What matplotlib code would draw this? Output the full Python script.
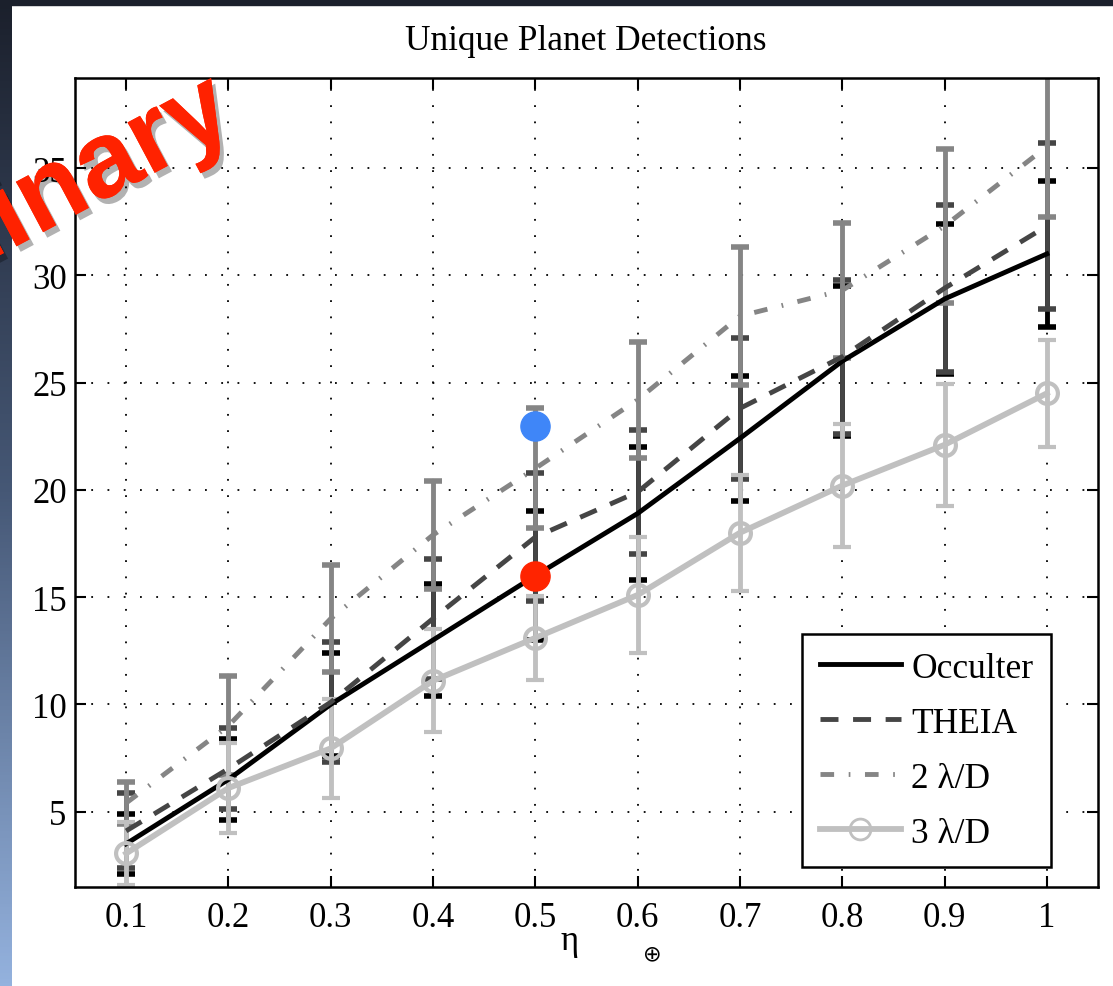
import numpy as np
import matplotlib
matplotlib.use("Agg")
import matplotlib.pyplot as plt
from matplotlib.patches import Rectangle
from matplotlib.lines import Line2D
import matplotlib.patheffects as pe

plt.rcParams['font.family'] = ['Liberation Serif', 'DejaVu Sans']

# données
eta = [0.1, 0.2, 0.3, 0.4, 0.5, 0.6, 0.7, 0.8, 0.9, 1.0]
occulter = [3.5, 6.5, 10.0, 13.0, 16.0, 18.9, 22.4, 26.0, 28.9, 31.0]
occulter_err = [1.4, 1.9, 2.4, 2.6, 3.0, 3.1, 2.9, 3.5, 3.5, 3.4]
theia = [4.1, 7.0, 10.1, 14.0, 17.8, 19.9, 23.8, 26.2, 29.4, 32.3]
theia_err = [1.75, 1.9, 2.8, 2.8, 3.0, 2.9, 3.3, 3.6, 3.9, 3.85]
two_ld = [5.4, 9.0, 14.0, 17.9, 21.0, 24.2, 28.1, 29.3, 32.3, 36.0]
two_ld_err = [1.0, 2.3, 2.5, 2.5, 2.8, 2.7, 3.2, 3.15, 3.6, 3.3]
three_ld = [3.05, 6.1, 7.95, 11.1, 13.1, 15.1, 18.0, 20.2, 22.1, 24.5]
three_ld_err = [1.45, 2.1, 2.3, 2.4, 1.95, 2.7, 2.7, 2.85, 2.85, 2.5]

# points mis en évidence (bleu, rouge)
mark_x = [0.5, 0.5]
mark_y = [23.0, 16.0]
mark_colors = ['#3f86f8', '#ff2400']

x_ticks = [0.1, 0.2, 0.3, 0.4, 0.5, 0.6, 0.7, 0.8, 0.9, 1.0]
x_labels = ['0.1', '0.2', '0.3', '0.4', '0.5', '0.6', '0.7', '0.8', '0.9', '1']
y_ticks = [5, 10, 15, 20, 25, 30, 35]

# styles des séries
styles = [
    dict(label='Occulter', color='black', dashes=None, marker=None, lw=3.5),
    dict(label='THEIA', color='#454545', dashes=(3.7, 3.0), marker=None, lw=3.5),
    dict(label='2 λ/D', color='#858585', dashes=(2.8, 3.0, 0.35, 3.0), marker=None, lw=3.5),
    dict(label='3 λ/D', color='#c0c0c0', dashes=None, marker='o', lw=4.2),
]
series = [(occulter, occulter_err), (theia, theia_err),
          (two_ld, two_ld_err), (three_ld, three_ld_err)]

fig = plt.figure(figsize=(11.13, 9.87), dpi=100)

# fond de diapo : bande sombre en haut, dégradé à gauche
bg = fig.add_axes([0, 0, 12 / 1113, 1])
rows = np.linspace(0, 1, 300)
grad = np.stack([np.interp(rows, [0, 0.5, 1], [27, 70, 148]),
                 np.interp(rows, [0, 0.5, 1], [32, 88, 178]),
                 np.interp(rows, [0, 0.5, 1], [44, 118, 222])], axis=-1) / 255
bg.imshow(grad[:, None, :], aspect='auto', extent=[0, 1, 0, 1])
bg.axis('off')
fig.add_artist(Rectangle((0, 1 - 6 / 987), 1, 6 / 987, transform=fig.transFigure,
                         color='#1b202c', zorder=0))

ax = fig.add_axes([75 / 1113, 1 - 887.7 / 987, 1023 / 1113, 808.7 / 987])

ax.grid(True, linestyle=(0, (1, 8)), color='k', linewidth=1.3)
ax.set_axisbelow(True)

handles = []
for (vals, errs), st in zip(series, styles):
    kw = dict(color=st['color'], linewidth=st['lw'], elinewidth=3.5, capsize=6.5,
              capthick=4)
    if st['marker']:
        kw.update(marker='o', markersize=15, markerfacecolor='none', markeredgewidth=3)
    cont = ax.errorbar(eta, vals, yerr=errs, **kw)
    hkw = dict(color=st['color'], linewidth=st['lw'])
    if st['dashes']:
        cont.lines[0].set_dashes(st['dashes'])
        hkw['dashes'] = st['dashes']
    if st['marker']:
        hkw.update(marker='o', markersize=15, markerfacecolor='none', markeredgewidth=2)
    handles.append(Line2D([], [], label=st['label'], **hkw))

for xx, yy, cc in zip(mark_x, mark_y, mark_colors):
    ax.plot(xx, yy, 'o', color=cc, markersize=21, zorder=5)

ax.set_xlim(0.05, 1.05)
ax.set_ylim(1.5, 39.2)
ax.set_xticks(x_ticks)
ax.set_xticklabels(x_labels)
ax.set_yticks(y_ticks)
ax.tick_params(direction='in', length=8, width=1.5, top=True, right=True,
               labelsize=25)
ax.tick_params(axis='x', pad=10)
ax.tick_params(axis='y', pad=6)
for s in ax.spines.values():
    s.set_linewidth(1.8)

leg = ax.legend(handles=handles, loc='lower right', bbox_to_anchor=(0.954, 0.024),
                borderaxespad=0, fontsize=25.5, handlelength=2.3, handletextpad=0.28,
                borderpad=0.5, labelspacing=0.62, numpoints=1, fancybox=False,
                framealpha=1, edgecolor='black')
leg.get_frame().set_linewidth(1.8)

fig.text(586 / 1113, 1 - 42 / 987, 'Unique Planet Detections', ha='center',
         va='center', fontsize=25.5)
fig.text(570 / 1113, 1 - 942 / 987, 'η', ha='center', va='center', fontsize=25)
fig.text(652 / 1113, 1 - 954 / 987, '⊕', ha='center', va='center', fontsize=16,
         family=['DejaVu Sans'])

fig.text(239 / 1113, 1 - 129 / 987, 'Preliminary', rotation=28, rotation_mode='anchor',
         ha='right', va='baseline', fontsize=78, fontweight='bold', color='#ff2200',
         family=['Liberation Sans'], zorder=10,
         path_effects=[pe.withSimplePatchShadow(offset=(3, -4), shadow_rgbFace='k',
                                                alpha=0.3), pe.Normal()])

fig.savefig('out.png', dpi=100)
